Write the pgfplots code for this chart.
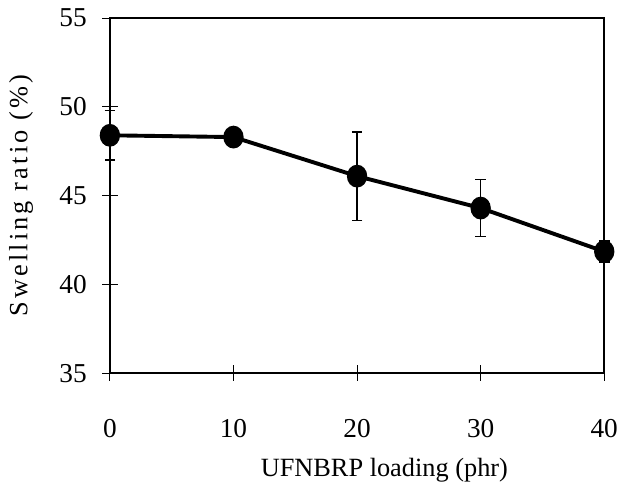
\documentclass[border=0pt]{standalone}
\usepackage{fontspec}
\setmainfont{Liberation Serif}
\usepackage{pgfplots}
\pgfplotsset{compat=1.18}

\begin{document}
\fontsize{14}{16}\selectfont
\begin{tikzpicture}
\begin{axis}[
scale only axis,
width=253.5pt,
height=182pt,
xmin=0, xmax=40,
ymin=35, ymax=55,
xtick={0,10,20,30,40},
ytick={35,40,45,50,55},
xtick pos=bottom,
ytick pos=left,
tick align=center,
major tick length=8pt,
tick style={black, line width=0.5pt},
axis line style={line width=1pt},
/pgf/number format/assume math mode=true,
ticklabel style={font=\fontsize{14}{16}\selectfont},
xticklabel style={yshift=-15pt},
yticklabel style={xshift=-3pt},
xlabel={UFNBRP loading (phr)},
ylabel={{\addfontfeatures{LetterSpace=12}Swelling ratio (\%)}},
xlabel style={font=\fontsize{13.5}{15}\selectfont, xshift=14pt, yshift=-1pt},
ylabel style={font=\fontsize{13.5}{15}\selectfont, yshift=4pt},
clip=false
]
\addplot [black, line width=2pt, mark=*, mark size=4.2pt,
  mark options={yscale=1.15},
  error bars/.cd, y dir=both, y explicit,
  error bar style={line width=0.6pt},
  error mark options={rotate=90, mark size=2.7pt, line width=0.8pt}]
coordinates {
(0,48.4) +- (0,1.4)
(10,48.3) +- (0,0.3)
(20,46.1) +- (0,2.5)
(30,44.3) +- (0,1.6)
(40,41.85) +- (0,0.6)
};
\end{axis}
\end{tikzpicture}
\end{document}
